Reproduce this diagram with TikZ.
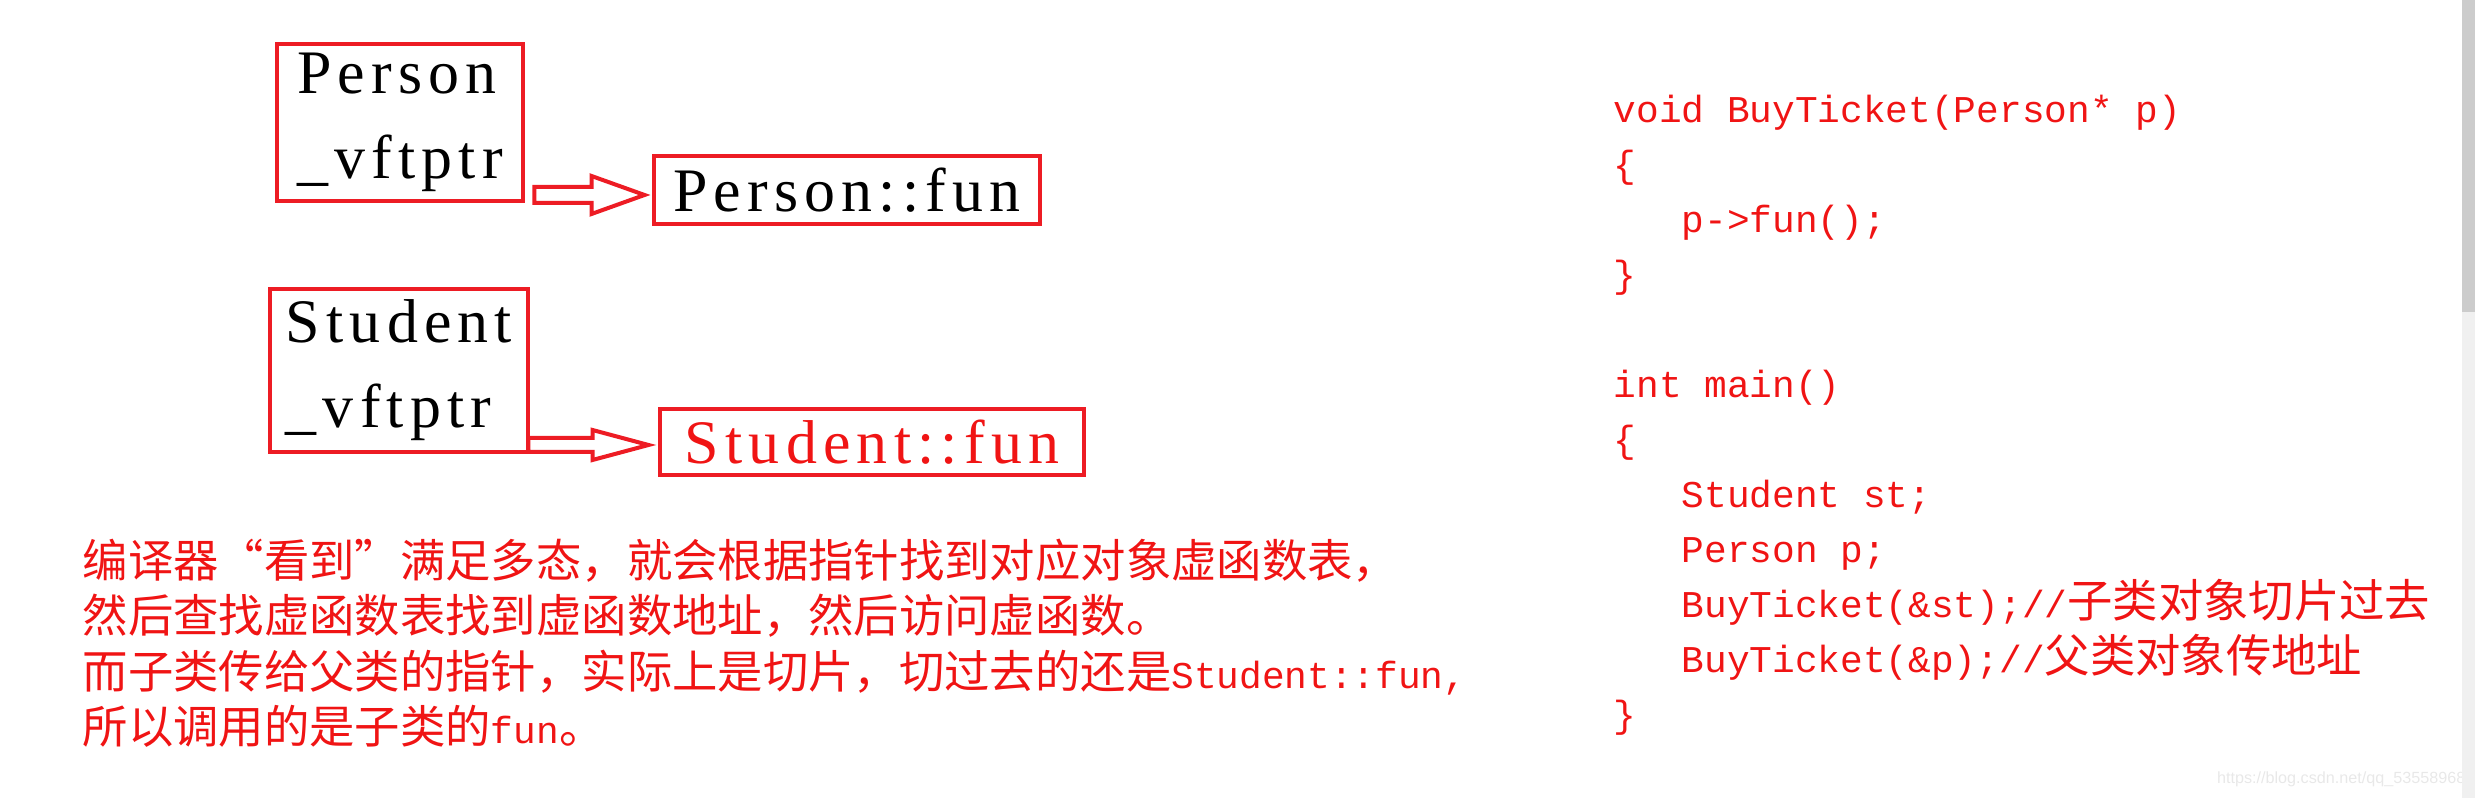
\documentclass[tikz,border=0pt]{standalone}
\usepackage{fontspec}
\setmainfont{Liberation Mono}
\newfontfamily\boxfont[LetterSpace=10]{Liberation Serif}
\newfontfamily\cjk[Scale=1.2]{Noto Sans CJK SC}
\newfontfamily\wmfont{Liberation Sans}
\usepackage{tikz}
\usetikzlibrary{calc}
\definecolor{lineRed}{HTML}{ED1C24}
\definecolor{textRed}{HTML}{F01414}
\newcommand{\codeind}{\hspace*{19.35pt}}
% hollow block arrow: start, tip, half shaft, half head, head length
\newcommand{\blockarrow}[5]{%
	\draw[arr] ($(#1)+(0,-#3)$) -- ($(#2)+(-#5,-#3)$) -- ($(#2)+(-#5,-#4)$) -- (#2) -- ($(#2)+(-#5,#4)$) -- ($(#2)+(-#5,#3)$) -- ($(#1)+(0,#3)$) -- cycle;}

\begin{document}
\begin{tikzpicture}[x=0.01cm, y=-0.01cm,
		objbox/.style={draw=lineRed, line width=1.34pt, font=\boxfont\fontsize{17.6pt}{24.2pt}\selectfont, align=left, inner xsep=3pt, inner ysep=0pt},
		arr/.style={draw=lineRed, line width=1.14pt, fill=white, line join=miter},
		code/.style={text=textRed, font=\fontsize{10.75pt}{15.65pt}\selectfont, align=left, inner sep=0pt},
		note/.style={text=textRed, font=\fontsize{10.75pt}{15.8pt}\selectfont, align=left, inner sep=0pt},
		wm/.style={text=black!9, font=\wmfont\fontsize{4.6pt}{5pt}\selectfont, inner sep=0pt}
		]
		\useasboundingbox (0,0) rectangle (2475,798);

		% objects and their tables
		\node[objbox, minimum width=2.46cm, minimum height=1.57cm] (pbox) at (400,122.5) {Person\\\_vftptr};
		\node[objbox, minimum width=3.86cm, minimum height=0.68cm] (pfun) at (847,190) {Person::fun};
		\node[objbox, minimum width=2.58cm, minimum height=1.63cm] (sbox) at (399,370.5) {Student\\\_vftptr};
		\node[objbox, text=textRed, minimum width=4.24cm, minimum height=0.66cm] (sfun) at (872,442) {Student::fun};

		\coordinate (a1s) at ($(pbox.east |- pfun.west)+(9,5)$);
		\coordinate (a1e) at ($(pfun.west)+(-7,5)$);
		\coordinate (a2s) at ($(sbox.east |- sfun.west)+(-2,3)$);
		\coordinate (a2e) at ($(sfun.west)+(-9,3)$);
		\blockarrow{a1s}{a1e}{8}{19}{53}
		\blockarrow{a2s}{a2e}{7}{15}{56}

		% explanation (anchored on its last line)
		\node[note, anchor=base west] (expl) at (82,744) {{\cjk 编译器“看到”满足多态，就会根据指针找到对应对象虚函数表，}\\
			{\cjk 然后查找虚函数表找到虚函数地址，然后访问虚函数。}\\
			{\cjk 而子类传给父类的指针，实际上是切片，切过去的还是}Student::fun,\\
			{\cjk 所以调用的是子类的}fun{\cjk 。}};

		% code (anchored on its last line)
		\node[code, anchor=base west] (src) at (1613,728) {void BuyTicket(Person* p)\\
			\{\\
			\codeind p->fun();\\
			\}\\[15.65pt]
			int main()\\
			\{\\
			\codeind Student st;\\
			\codeind Person p;\\
			\codeind BuyTicket(\&st);//{\cjk 子类对象切片过去}\\
			\codeind BuyTicket(\&p);//{\cjk 父类对象传地址}\\
			\}};

		\node[wm, anchor=base east] (mark) at (2466,784) {https://blog.csdn.net/qq\_53558968};
		\fill[black!20] (2462,0) rectangle (2475,312);
		\fill[black!6] (2462,312) rectangle (2475,798);
	\end{tikzpicture}
\end{document}
